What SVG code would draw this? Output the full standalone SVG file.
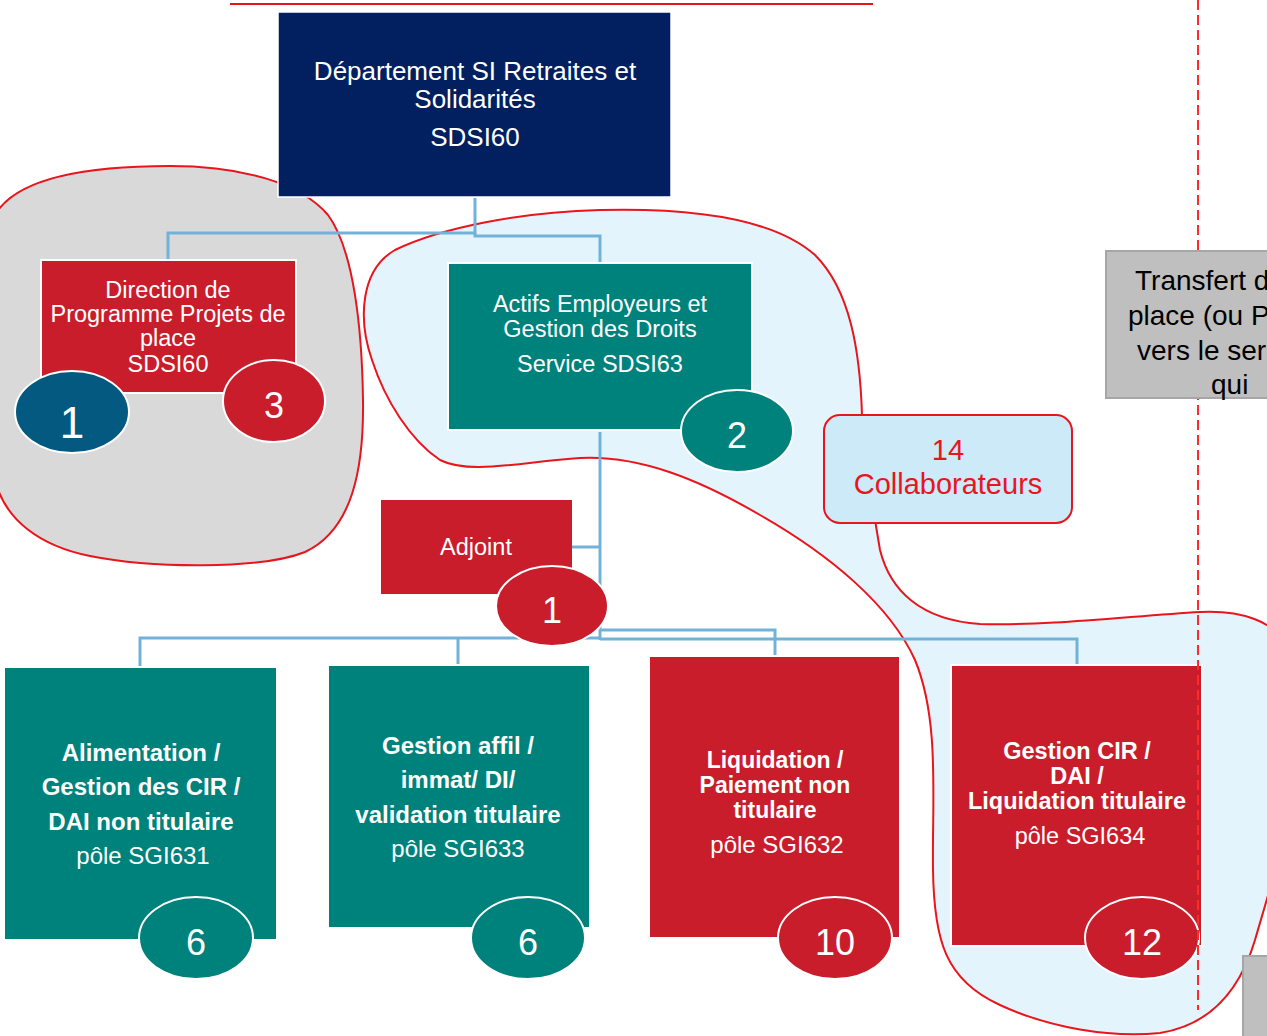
<svg xmlns="http://www.w3.org/2000/svg" width="1267" height="1036" viewBox="0 0 1267 1036">
<style>
text{font-family:"Liberation Sans",Arial,sans-serif}
.w{fill:#fff;text-anchor:middle}
.b{font-weight:bold}
.red{fill:#c91d2b;stroke:#fff;stroke-width:2}
.teal{fill:#00827c;stroke:#fff;stroke-width:2}
.blob{stroke:#e8151d;stroke-width:2}
.con{fill:none;stroke:#72b2d8;stroke-width:3}
.num{font-size:36px}
</style>
<rect width="1267" height="1036" fill="#fff"/>
<line x1="230" y1="4" x2="873" y2="4" stroke="#e8151d" stroke-width="2"/>
<g id="groupe-gris">
<path class="blob" fill="#d9d9d9" d="M -5,215 C 15,180 80,166 170,166 C 240,166 300,182 328,215 C 354,250 362,330 363,400 C 364,470 352,530 305,552 C 260,570 150,568 90,556 C 40,546 5,520 -5,480 Z"/>
</g>
<g id="groupe-bleu">
<path class="blob" fill="#e4f4fc" d="M 862,415 C 860,350 850,290 815,255 C 770,215 680,208 600,210 C 520,212 440,228 395,250 C 360,270 358,320 372,360 C 385,400 410,440 440,460 C 470,475 520,462 580,458 C 640,455 700,480 760,515 C 830,555 890,605 915,660 C 940,720 932,800 933,870 C 934,940 945,980 1000,1005 C 1050,1028 1110,1038 1160,1033 C 1210,1025 1240,990 1255,940 C 1265,905 1280,860 1290,800 L 1290,650 C 1275,620 1240,610 1200,612 C 1130,616 1050,626 980,624 C 920,620 890,590 880,550 L 875,520 Z"/>
</g>
<g id="connecteurs">
<polyline class="con" stroke="#6aa6c8" points="475,198 475,233 168,233 168,260"/>
<polyline class="con" stroke="#6aa6c8" points="475,233 475,236 600,236 600,263"/>
<polyline class="con" points="600,432 600,640"/>
<polyline class="con" points="572,547 600,547"/>
<polyline class="con" points="600,638 140,638 140,666"/>
<polyline class="con" points="458,638 458,664"/>
<polyline class="con" points="600,630 775,630 775,656"/>
<polyline class="con" points="600,639 1077,639 1077,665"/>
</g>
<g id="departement">
<rect x="278" y="12" width="393" height="185" fill="#02205f" stroke="#fff" stroke-width="1.5"/>
<text class="w" font-size="26"><tspan x="475" y="80">Département SI Retraites et</tspan><tspan x="475" y="108">Solidarités</tspan><tspan x="475" y="146">SDSI60</tspan></text>
</g>
<g id="direction-programme">
<rect class="red" x="41" y="260" width="255" height="133"/>
<text class="w" font-size="23.5"><tspan x="168" y="298">Direction de</tspan><tspan x="168" y="322">Programme Projets de</tspan><tspan x="168" y="346">place</tspan><tspan x="168" y="372">SDSI60</tspan></text>
<ellipse cx="72" cy="412" rx="57" ry="41" fill="#03597f" stroke="#fff" stroke-width="2"/>
<text class="w" font-size="44" x="72" y="438">1</text>
<ellipse class="red" cx="274" cy="401" rx="51" ry="41"/>
<text class="w num" x="274" y="418">3</text>
</g>
<g id="actifs-employeurs">
<rect class="teal" x="448" y="263" width="304" height="167"/>
<text class="w" font-size="23.5"><tspan x="600" y="312">Actifs Employeurs et</tspan><tspan x="600" y="337">Gestion des Droits</tspan><tspan x="600" y="372">Service SDSI63</tspan></text>
<ellipse class="teal" cx="737" cy="431" rx="56" ry="41"/>
<text class="w num" x="737" y="448">2</text>
</g>
<g id="adjoint">
<rect fill="#c91d2b" x="381" y="500" width="191" height="94"/>
<text class="w" font-size="23.5" x="476" y="555">Adjoint</text>
<ellipse class="red" cx="552" cy="606" rx="56" ry="40"/>
<text class="w num" x="552" y="623">1</text>
</g>
<g id="pole-sgi631">
<rect class="teal" x="4" y="667" width="273" height="273"/>
<text class="w" font-size="24"><tspan class="b" x="141" y="761">Alimentation /</tspan><tspan class="b" x="141" y="795">Gestion des CIR /</tspan><tspan class="b" x="141" y="830">DAI non titulaire</tspan><tspan x="143" y="864">pôle SGI631</tspan></text>
<ellipse class="teal" cx="196" cy="938" rx="57" ry="41"/>
<text class="w num" x="196" y="955">6</text>
</g>
<g id="pole-sgi633">
<rect class="teal" x="328" y="665" width="262" height="263"/>
<text class="w" font-size="24"><tspan class="b" x="458" y="754">Gestion affil /</tspan><tspan class="b" x="458" y="788">immat/ DI/</tspan><tspan class="b" x="458" y="823">validation titulaire</tspan><tspan x="458" y="857">pôle SGI633</tspan></text>
<ellipse class="teal" cx="528" cy="938" rx="57" ry="41"/>
<text class="w num" x="528" y="955">6</text>
</g>
<g id="pole-sgi632">
<rect class="red" x="649" y="656" width="251" height="282"/>
<text class="w" font-size="23"><tspan class="b" x="775" y="768">Liquidation /</tspan><tspan class="b" x="775" y="793">Paiement non</tspan><tspan class="b" x="775" y="818">titulaire</tspan><tspan x="777" y="853" font-size="24">pôle SGI632</tspan></text>
<ellipse class="red" cx="835" cy="938" rx="57" ry="41"/>
<text class="w num" x="835" y="955">10</text>
</g>
<g id="pole-sgi634">
<rect class="red" x="951" y="665" width="251" height="281"/>
<text class="w" font-size="23.5"><tspan class="b" x="1077" y="759">Gestion CIR /</tspan><tspan class="b" x="1077" y="784">DAI /</tspan><tspan class="b" x="1077" y="809">Liquidation titulaire</tspan><tspan x="1080" y="844">pôle SGI634</tspan></text>
<ellipse class="red" cx="1142" cy="938" rx="57" ry="41"/>
<text class="w num" x="1142" y="955">12</text>
</g>
<g id="collaborateurs">
<rect x="824" y="415" width="248" height="108" rx="16" fill="#cdeaf9" stroke="#e8151d" stroke-width="2"/>
<text font-size="29" fill="#e8151d" text-anchor="middle"><tspan x="948" y="460">14</tspan><tspan x="948" y="494">Collaborateurs</tspan></text>
</g>
<line x1="1198" y1="0" x2="1198" y2="1010" stroke="#ff2a2a" stroke-width="2" stroke-dasharray="10 5"/>
<g id="transfert">
<rect x="1106" y="251" width="250" height="147" fill="#bfbfbf" stroke="#a6a6a6" stroke-width="2"/>
<text font-size="28" fill="#000"><tspan x="1135" y="290">Transfert d</tspan><tspan x="1128" y="325">place (ou P</tspan><tspan x="1137" y="360">vers le ser</tspan><tspan x="1211" y="394">qui</tspan></text>
</g>
<g id="boite-grise-bas">
<rect x="1243" y="956" width="40" height="90" fill="#bfbfbf" stroke="#a6a6a6" stroke-width="2"/>
</g>
</svg>
